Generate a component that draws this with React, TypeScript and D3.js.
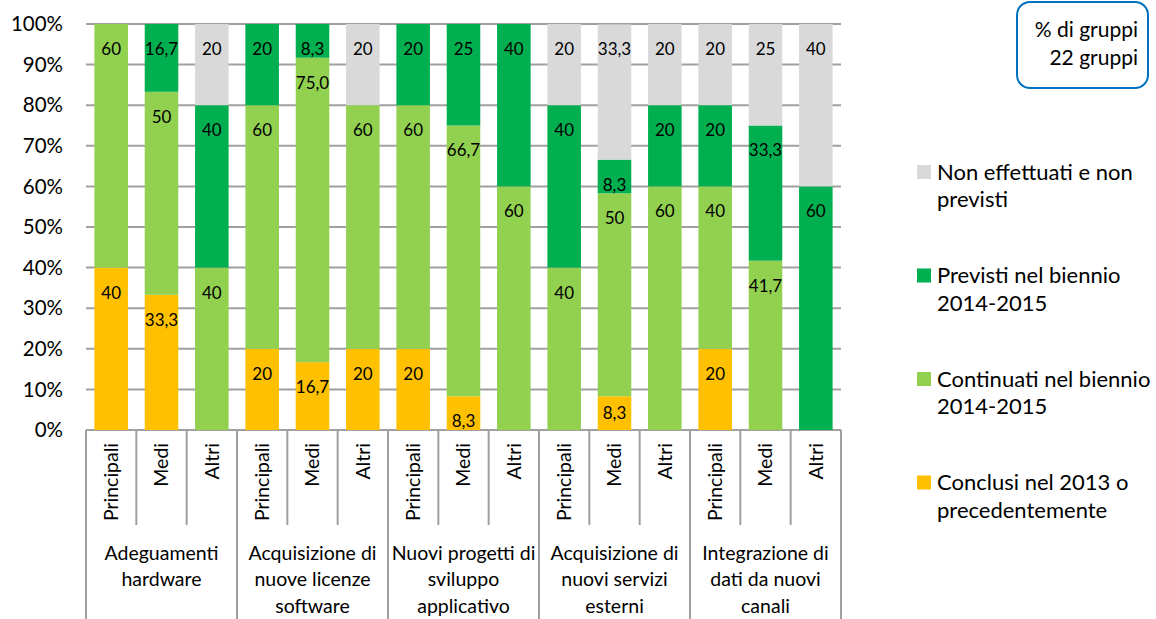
import React from "react";
import * as d3 from "d3";

const groupLabels: string[][] = [
  ["Adeguamenti", "hardware"],
  ["Acquisizione di", "nuove licenze", "software"],
  ["Nuovi progetti di", "sviluppo", "applicativo"],
  ["Acquisizione di", "nuovi servizi", "esterni"],
  ["Integrazione di", "dati da nuovi", "canali"],
];
const subCategories = ["Principali", "Medi", "Altri"];

const seriesNames = [
  "Conclusi nel 2013 o precedentemente",
  "Continuati nel biennio 2014-2015",
  "Previsti nel biennio 2014-2015",
  "Non effettuati e non previsti",
];
const legendLines: string[][] = [
  ["Non effettuati e non", "previsti"],
  ["Previsti nel biennio", "2014-2015"],
  ["Continuati nel biennio", "2014-2015"],
  ["Conclusi nel 2013 o", "precedentemente"],
];
const seriesColors = ["#FFC000", "#92D050", "#00B050", "#D9D9D9"];

const conclusi = [40, 33.3, 0, 20, 16.7, 20, 20, 8.3, 0, 0, 8.3, 0, 20, 0, 0];
const continuati = [60, 50, 40, 60, 75, 60, 60, 66.7, 60, 40, 50, 60, 40, 41.7, 0];
const previsti = [0, 16.7, 40, 20, 8.3, 0, 20, 25, 40, 40, 8.3, 20, 20, 33.3, 60];
const nonEffettuati = [0, 0, 20, 0, 0, 20, 0, 0, 0, 20, 33.3, 20, 20, 25, 40];

const labelOverrides: Record<string, string> = { "1-4": "75,0" };
const centeredLabels = new Set(["0-10"]);

const yTicks = [0, 10, 20, 30, 40, 50, 60, 70, 80, 90, 100];

const W = 1156;
const H = 619;
const FONT = "Lato, 'Open Sans', sans-serif";

export default function App() {
  const left = 86;
  const right = 841;
  const top = 24;
  const bottom = 430;
  const n = groupLabels.length * subCategories.length;
  const keys = d3.range(n).map(String);

  const x = d3.scaleBand<string>().domain(keys).range([left, right]).paddingInner(1 / 3).paddingOuter(1 / 6);
  const step = x.step();
  const y = d3.scaleLinear().domain([0, 100]).range([bottom, top]);

  const rows = keys.map((k, i) => ({
    key: k,
    s0: conclusi[i],
    s1: continuati[i],
    s2: previsti[i],
    s3: nonEffettuati[i],
  }));
  const stack = d3.stack<any>().keys(["s0", "s1", "s2", "s3"]);
  const stacked = stack(rows);
  const seriesData = [conclusi, continuati, previsti, nonEffettuati];

  const fmt = (v: number) => (Number.isInteger(v) ? String(v) : v.toFixed(1).replace(".", ","));

  const gridColor = "#A0A0A0";

  return (
    <svg width={W} height={H} style={{ position: "absolute", left: 0, top: 0, background: "#fff" }} fontFamily={FONT}>
      {yTicks.map((t) => (
        <line key={t} x1={left} x2={right} y1={y(t)} y2={y(t)} stroke={gridColor} strokeWidth={2} />
      ))}
      {yTicks.map((t) => (
        <text key={"l" + t} x={63} y={y(t)} dy="0.35em" textAnchor="end" fontSize={20.5} fill="#000">
          {t + "%"}
        </text>
      ))}
      {stacked.map((layer, si) => (
        <g key={si} fill={seriesColors[si]}>
          {layer.map((d, i) => {
            const h = y(d[0]) - y(d[1]);
            if (h <= 0) return null;
            return <rect key={i} x={x(keys[i])} y={y(d[1])} width={x.bandwidth()} height={h} />;
          })}
        </g>
      ))}
      {stacked.map((layer, si) => (
        <g key={"dl" + si}>
          {layer.map((d, i) => {
            const v = d[1] - d[0];
            if (v <= 0) return null;
            const id = si + "-" + i;
            const txt = labelOverrides[id] ?? fmt(seriesData[si][i]);
            const ly = centeredLabels.has(id) ? (y(d[0]) + y(d[1])) / 2 : y(d[1]) + 25;
            return (
              <text
                key={i}
                x={(x(keys[i]) as number) + x.bandwidth() / 2}
                y={ly}
                dy="0.35em"
                textAnchor="middle"
                fontSize={17}
                fill="#000"
              >
                {txt}
              </text>
            );
          })}
        </g>
      ))}
      {d3.range(n + 1).map((i) => {
        const xx = left + i * step;
        const isGroup = i % 3 === 0;
        return (
          <line key={"sep" + i} x1={xx} x2={xx} y1={bottom} y2={isGroup ? H : 525} stroke={gridColor} strokeWidth={2} />
        );
      })}
      {keys.map((k, i) => {
        const cx = (x(k) as number) + x.bandwidth() / 2;
        return (
          <text
            key={"sc" + i}
            transform={`translate(${cx},443) rotate(-90)`}
            dy="0.35em"
            textAnchor="end"
            fontSize={19.5}
            fill="#000"
          >
            {subCategories[i % 3]}
          </text>
        );
      })}
      {groupLabels.map((lines, gi) => {
        const cx = left + (gi * 3 + 1.5) * step;
        return (
          <text key={"g" + gi} textAnchor="middle" fontSize={19.5} fill="#000">
            {lines.map((ln, li) => (
              <tspan key={li} x={cx} y={553 + li * 26.5} dy="0.35em">
                {ln}
              </tspan>
            ))}
          </text>
        );
      })}
      {legendLines.map((lines, li) => {
        const si = 3 - li;
        const y0 = 172 + li * 103.5;
        return (
          <g key={"lg" + li}>
            <rect x={917} y={y0 - 7} width={14} height={14} fill={seriesColors[si]} />
            <text fontSize={22} fill="#000">
              {lines.map((ln, k) => (
                <tspan key={k} x={937} y={y0 + k * 27.5} dy="0.35em">
                  {ln}
                </tspan>
              ))}
            </text>
          </g>
        );
      })}
      <rect x={1017} y={2} width={131} height={86} rx={13} ry={13} fill="#fff" stroke="#0070C0" strokeWidth={2} />
      <text fontSize={21} fill="#000" textAnchor="end">
        <tspan x={1138} y={30} dy="0.35em">% di gruppi</tspan>
        <tspan x={1138} y={58} dy="0.35em">22 gruppi</tspan>
      </text>
    </svg>
  );
}
